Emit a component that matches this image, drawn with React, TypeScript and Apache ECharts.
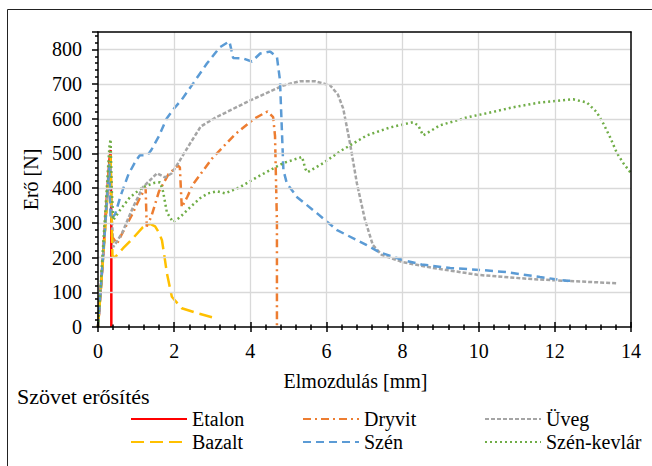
import React, { useEffect, useRef } from "react";
import * as echarts from "echarts";

// Elmozdulás [mm], Erő [N]
const etalon: number[][] = [[0, 0], [0.1, 150], [0.2, 320], [0.3, 480], [0.33, 510], [0.35, 300], [0.35, 0]];
const dryvit: number[][] = [
  [0, 0], [0.15, 230], [0.3, 470], [0.33, 420], [0.37, 260], [0.5, 240], [0.66, 275], [0.9, 325], [1.1, 372],
  [1.25, 402], [1.28, 290], [1.4, 318], [1.6, 390], [1.85, 440], [2.1, 465], [2.15, 460], [2.2, 345],
  [2.35, 376], [2.5, 412], [3.0, 486], [3.6, 555], [4.1, 600], [4.45, 621], [4.6, 605], [4.65, 550],
  [4.7, 300], [4.7, 0]
];
const uveg: number[][] = [
  [0, 0], [0.15, 230], [0.3, 460], [0.33, 480], [0.36, 330], [0.4, 230], [0.63, 270], [0.92, 345],
  [1.18, 403], [1.55, 443], [1.76, 431], [1.94, 443], [2.15, 480], [2.42, 529], [2.7, 578], [3.1, 604],
  [4.0, 653], [4.87, 696], [5.3, 708], [5.7, 708], [6.1, 696], [6.3, 670], [6.44, 630], [6.62, 529],
  [6.8, 414], [7.01, 310], [7.22, 236], [7.45, 208], [8.0, 187], [8.8, 170], [10.0, 150], [11.4, 138],
  [12.3, 133], [13.63, 126]
];
const bazalt: number[][] = [
  [0, 0], [0.15, 220], [0.3, 460], [0.33, 495], [0.36, 300], [0.38, 205], [0.45, 201], [0.66, 227],
  [0.92, 256], [1.18, 288], [1.37, 297], [1.5, 290], [1.6, 272], [1.68, 250], [1.75, 200], [1.81, 155],
  [1.94, 87], [2.2, 54], [2.6, 40], [3.07, 26]
];
const szen: number[][] = [
  [0, 0], [0.15, 230], [0.3, 470], [0.33, 310], [0.45, 325], [0.6, 380], [0.8, 440], [1.0, 480], [1.1, 495],
  [1.3, 495], [1.4, 510], [1.6, 550], [1.8, 600], [2.0, 630], [2.2, 655], [2.5, 702], [2.86, 759],
  [3.2, 806], [3.45, 823], [3.5, 800], [3.55, 775], [3.81, 774], [4.04, 765], [4.26, 788], [4.52, 794],
  [4.7, 778], [4.78, 711], [4.83, 567], [4.87, 452], [4.96, 414], [5.23, 374], [5.75, 328], [6.28, 279],
  [7.06, 236], [7.4, 215], [8.01, 193], [8.5, 180], [9.25, 170], [10.1, 164], [10.73, 158],
  [11.61, 144], [12.31, 133], [12.4, 133]
];
const szenKevlar: number[][] = [
  [0, 0], [0.15, 260], [0.3, 520], [0.33, 541], [0.36, 400], [0.4, 308], [0.58, 337], [0.84, 374],
  [1.18, 403], [1.5, 416], [1.63, 417], [1.71, 390], [1.81, 330], [1.97, 302], [2.15, 316], [2.42, 345],
  [2.68, 371], [2.89, 385], [3.12, 391], [3.34, 385], [3.73, 403], [4.18, 432], [4.86, 472], [5.36, 490],
  [5.45, 455], [5.5, 446], [5.91, 472], [6.4, 509], [7.06, 552], [7.67, 575], [8.27, 590], [8.41, 581],
  [8.54, 552], [8.98, 581], [9.69, 604], [10.22, 616], [10.9, 633], [11.61, 647], [12.48, 656],
  [12.84, 647], [13.1, 619], [13.27, 587], [13.45, 547], [13.63, 501], [13.8, 472], [14, 443]
];

const seriesNames = ["Etalon", "Dryvit", "Üveg", "Bazalt", "Szén", "Szén-kevlár"];
const seriesData = [etalon, dryvit, uveg, bazalt, szen, szenKevlar];
const seriesColors = ["#FF0000", "#ED7D31", "#A5A5A5", "#FFC000", "#5B9BD5", "#70AD47"];
const seriesDash: (string | number[])[] = ["solid", [8, 4, 2, 4], [4, 2], [13, 6], [8, 5], [2, 3]];

const FONT = "Liberation Serif";

export default function App() {
  const ref = useRef<HTMLDivElement>(null);
  useEffect(() => {
    if (!ref.current) return;
    const chart = echarts.init(ref.current, undefined, { renderer: "svg" });
    const series = seriesNames.map((name, i) => ({
      name,
      type: "line",
      data: seriesData[i],
      showSymbol: false,
      symbol: "none",
      lineStyle: { color: seriesColors[i], width: 2.5, type: seriesDash[i] as any, cap: "butt" },
      itemStyle: { color: seriesColors[i] },
      xAxisIndex: 0,
      yAxisIndex: 0,
    }));
    const legendBase = {
      orient: "vertical",
      padding: 0,
      itemWidth: 56,
      itemHeight: 14,
      itemGap: 3,
      itemStyle: { opacity: 0 },
      textStyle: { fontFamily: FONT, fontSize: 20, color: "#000", lineHeight: 20 },
      top: 409,
    };
    chart.setOption({
      animation: false,
      backgroundColor: "#fff",
      textStyle: { fontFamily: FONT },
      title: {
        text: "Szövet erősítés",
        left: 12,
        top: 380,
        textStyle: { fontFamily: FONT, fontSize: 22, fontWeight: "normal", color: "#000" },
      },
      graphic: [
        {
          type: "rect",
          shape: { x: 7.5, y: 9.5, width: 700, height: 520 },
          style: { fill: "none", stroke: "#222", lineWidth: 1 },
          silent: true,
        },
      ],
      legend: [
        { ...legendBase, left: 130, data: ["Etalon", "Bazalt"] },
        { ...legendBase, left: 302, data: ["Dryvit", "Szén"] },
        { ...legendBase, left: 484, data: ["Üveg", "Szén-kevlár"] },
      ],
      grid: { left: 98, top: 32, right: 21, bottom: 139, show: false },
      xAxis: [
        {
          type: "value",
          min: 0,
          max: 14,
          interval: 2,
          position: "bottom",
          name: "Elmozdulás [mm]",
          nameLocation: "middle",
          nameGap: 44,
          nameTextStyle: { fontFamily: FONT, fontSize: 20, color: "#000", padding: [0, 18, 0, 0] },
          axisLine: { show: true, lineStyle: { color: "#000", width: 1.5 } },
          axisTick: { show: true, inside: false, length: 5, lineStyle: { color: "#000", width: 1.5 } },
          minorTick: { show: true, splitNumber: 5, length: 3, lineStyle: { color: "#000", width: 1.5 } },
          axisLabel: { fontFamily: FONT, fontSize: 20, color: "#000", margin: 14 },
          splitLine: { show: true, showMinLine: false, showMaxLine: false, lineStyle: { color: "#D9D9D9", width: 1.3 } },
          z: 4,
        },
        {
          type: "value",
          min: 0,
          max: 14,
          interval: 2,
          position: "bottom",
          axisLine: { show: false },
          axisTick: { show: true, inside: true, length: 5, lineStyle: { color: "#000", width: 1.5 } },
          minorTick: { show: true, splitNumber: 5, length: 2.5, lineStyle: { color: "#000", width: 1.5 } },
          axisLabel: { show: false },
          splitLine: { show: false },
          z: 4,
        },
        {
          type: "value",
          min: 0,
          max: 14,
          position: "top",
          axisLine: { show: true, onZero: false, lineStyle: { color: "#000", width: 1.5 } },
          axisTick: { show: false },
          axisLabel: { show: false },
          splitLine: { show: false },
          z: 5,
        },
      ],
      yAxis: [
        {
          type: "value",
          min: 0,
          max: 850,
          interval: 100,
          position: "left",
          name: "Erő [N]",
          nameLocation: "middle",
          nameGap: 54,
          nameTextStyle: { fontFamily: FONT, fontSize: 20, color: "#000" },
          axisLine: { show: true, onZero: false, lineStyle: { color: "#000", width: 1.5 } },
          axisTick: { show: true, inside: false, length: 6, lineStyle: { color: "#000", width: 1.5 } },
          minorTick: { show: true, splitNumber: 5, length: 3, lineStyle: { color: "#000", width: 1.5 } },
          axisLabel: {
            fontFamily: FONT,
            fontSize: 20,
            color: "#000",
            margin: 16,
            formatter: (v: number) => (v % 100 === 0 ? String(v) : ""),
          },
          splitLine: { show: true, showMinLine: false, showMaxLine: false, lineStyle: { color: "#D9D9D9", width: 1.3 } },
          z: 4,
        },
        {
          type: "value",
          min: 0,
          max: 850,
          position: "right",
          axisLine: { show: true, onZero: false, lineStyle: { color: "#000", width: 1.5 } },
          axisTick: { show: false },
          axisLabel: { show: false },
          splitLine: { show: false },
          z: 5,
        },
      ],
      series,
    });
    return () => chart.dispose();
  }, []);
  return (
    <div
      ref={ref}
      style={{ position: "absolute", left: 0, top: 0, width: 652, height: 466, background: "#fff" }}
    />
  );
}
